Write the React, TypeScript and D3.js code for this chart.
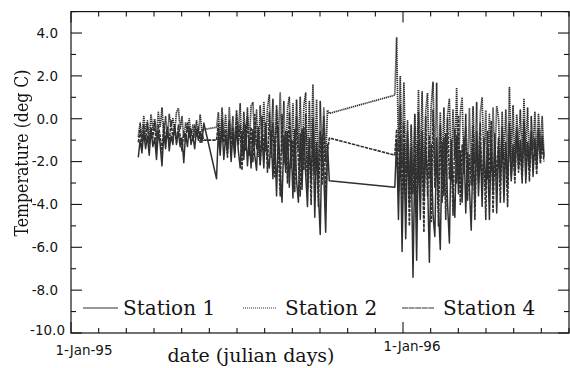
import React from 'react';
import * as d3 from 'd3';

// ---- data ----
const Y_TICK_VALUES = [4, 2, 0, -2, -4, -6, -8, -10];
const Y_TICK_LABELS = ['4.0', '2.0', '0.0', '-2.0', '-4.0', '-6.0', '-8.0', '-10.0'];
const X_LABEL_DAYS = [0, 365];
const X_TICK_LABELS = ['1-Jan-95', '1-Jan-96'];
const MONTH_COUNT = 18;
const LEGEND_NAMES = ['Station 1', 'Station 2', 'Station 4'];

// julian day (from 1-Jan-95) of the first sample in each recorded block, sampled every 2 days
const BLOCK_START_DAYS = [74, 160, 356];
const SAMPLE_STEP_DAYS = 2;

const station1Block1 = [-1.8, -1.0, -1.6, -0.6, -1.4, -0.8, -1.7, -0.5, -1.3, -0.9, -1.9, -0.6, -1.2, -2.2, -0.7, -1.4, -0.4, -1.5, -0.8, -1.2, -0.3, -1.1, -0.6, -1.3, -0.9, -2.05, -0.7, -1.3, -0.4, -1.2, -0.8, -1.4, -0.5, -1.0, -0.6, -1.1, -0.2];
const station1Block2 = [-2.8, -0.6, -1.7, -0.3, -1.9, -0.8, -1.6, -0.2, -2.0, -0.7, -1.8, -0.4, -1.5, -2.3, -0.6, -1.9, -0.3, -2.2, -0.9, -2.3, -0.5, -1.7, -2.4, -0.4, -2.1, -0.8, -2.3, -0.2, -1.9, -2.3, -0.6, -2.8, -0.9, -3.6, -0.4, -2.5, -3.9, -0.8, -2.5, -0.6, -3.2, -1.0, -3.7, -0.5, -2.9, -3.9, -0.7, -3.3, -0.4, -2.6, -4.1, -0.9, -3.0, -0.3, -4.6, -1.1, -3.5, -5.4, -0.8, -2.7, -5.3, -1.2, -2.9];
const station1Block3 = [-3.2, -1.0, -4.7, -0.8, -6.2, -1.2, -5.6, -0.9, -4.0, -1.5, -7.4, -1.8, -6.6, -1.0, -4.7, -0.6, -3.8, -1.4, -2.9, -6.7, -1.2, -4.5, -5.5, -0.9, -4.2, -6.1, -1.1, -3.6, -0.7, -4.0, -5.8, -1.0, -3.3, -4.6, -0.8, -3.5, -1.5, -3.9, -0.9, -4.4, -1.6, -3.2, -5.2, -1.3, -4.1, -0.6, -3.6, -1.2, -4.1, -0.9, -3.3, -1.4, -4.7, -1.0, -3.4, -0.7, -4.4, -1.3, -3.0, -0.8, -3.9, -1.1, -3.2, -0.5, -2.9, -1.2, -2.6, -0.4, -2.3, -1.0, -2.7, -0.3, -3.0, -1.1, -2.4, -0.6, -2.7, -0.9, -2.2, -0.5, -1.9, -0.8, -1.8];

const station2Block1 = [-0.85, -0.2, -0.9, 0.1, -0.6, -0.1, -1.0, 0.2, -0.5, 0.0, -0.8, 0.3, -0.4, 0.5, -0.7, 0.1, -0.9, 0.2, -0.3, 0.0, -0.6, 0.3, 0.5, -0.5, 0.1, -0.9, -0.2, -0.6, 0.0, -0.8, -0.3, -0.9, -0.1, -0.7, 0.2, -0.6, -0.5];
const station2Block2 = [-0.4, 0.3, -1.2, 0.5, -0.8, 0.2, -1.4, 0.55, -0.9, 0.1, -1.5, 0.4, -0.7, 0.7, -1.6, 0.3, -1.0, 0.5, -1.3, 0.6, 0.75, -1.2, 0.4, -1.8, 0.6, -0.9, 0.8, -1.5, 0.5, 1.1, -1.2, 0.9, -2.0, 0.6, -1.0, 1.2, -1.6, 0.8, -2.2, 0.5, 1.0, -1.8, 0.7, -2.4, 0.9, -1.5, 1.0, -2.0, 0.6, 1.2, -2.6, 0.8, -1.4, 1.6, -2.2, 0.9, -2.8, 0.8, -1.6, 0.5, -2.0, 0.4, 0.25];
const station2Block3 = [1.1, 3.8, -1.5, 2.0, -2.2, 1.7, -2.5, -0.1, -3.0, -0.3, -2.6, 0.2, -2.8, 1.35, -2.4, 1.25, -3.2, 0.4, 1.2, -2.8, 0.6, 1.7, -2.5, 1.65, -3.0, 0.3, -2.2, 0.5, -2.6, 0.2, 0.9, -2.9, 0.4, -1.8, 1.45, -2.6, 0.3, 1.0, -2.4, 0.2, -2.9, 0.5, -2.5, 0.55, -2.1, 0.75, -3.0, 0.3, 1.0, -2.2, 0.4, -2.8, 0.2, -2.4, 0.5, -2.0, 0.6, 0.05, -2.5, 0.3, -1.9, 0.4, -2.2, 1.45, -1.8, 0.6, -2.3, 0.2, -1.5, 0.4, -2.0, 0.9, -1.6, 0.5, -2.1, 0.1, -1.4, 0.3, -1.8, 0.2, -1.3, 0.1, -1.7];

const station4Block1 = [-1.1, -0.5, -1.3, -0.3, -1.0, -0.2, -1.2, -0.4, -0.9, -0.1, -1.4, -0.3, -0.8, -1.6, -0.2, -1.0, -0.5, -1.1, -0.1, -0.9, -0.4, -1.2, -0.3, -0.8, -1.5, -0.6, -1.1, -0.2, -0.9, -0.5, -1.0, -0.3, -0.8, -0.4, -1.1, -0.7, -1.0];
const station4Block2 = [-1.0, -0.2, -1.4, 0.0, -1.1, -0.5, -1.8, -0.1, -1.3, -0.4, -1.6, 0.2, -1.2, -0.3, -2.4, -0.2, -1.5, 0.1, -1.7, -0.4, -2.0, 0.2, -1.4, -0.6, -2.2, 0.1, -1.6, -0.5, -2.5, 0.3, -1.8, -0.2, -2.7, 0.4, -1.5, -3.6, 0.2, -2.1, -0.6, -3.0, 0.3, -2.3, -1.0, -3.4, 0.1, -2.0, -3.6, -0.5, -2.4, 0.2, -3.3, -1.1, -4.0, 0.0, -2.6, -1.4, -4.1, -0.6, -3.1, 0.1, -3.8, -1.5, -0.9];
const station4Block3 = [-1.7, -0.5, -3.4, 0.6, -4.3, -0.2, -3.8, -0.6, -5.0, -1.2, -3.5, -0.4, -4.6, 0.3, -3.0, -1.4, -5.3, 0.1, -3.6, -0.8, -4.8, 0.4, -3.2, -1.6, -5.0, -0.3, -3.9, -0.9, -4.7, 0.0, -2.8, -1.4, -4.5, -0.5, -3.0, 0.1, -4.0, -1.2, -2.6, -0.4, -3.8, -1.7, -3.1, -0.3, -4.7, -1.0, -2.7, -0.2, -3.4, -1.5, -4.7, -0.6, -3.0, -0.1, -4.4, -1.3, -2.8, -0.9, -3.9, -0.4, -2.5, -1.6, -4.1, -0.2, -2.7, -1.5, -3.0, -0.6, -2.5, -1.4, -3.0, -0.1, -2.3, -1.2, -2.9, -0.7, -2.2, -1.3, -2.6, -0.6, -2.1, -1.2, -2.0];

const STATION1 = [station1Block1, station1Block2, station1Block3];
const STATION2 = [station2Block1, station2Block2, station2Block3];
const STATION4 = [station4Block1, station4Block2, station4Block3];

// ---- layout / style ----
const W = 570;
const H = 368;
const LEFT = 71;
const RIGHT = 569;
const TOP = 11.6;
const BOTTOM = 333;
const INK = '#141414';
const DATA_INK = '#303030';
const SANS = "'DejaVu Sans', sans-serif";
const SERIF = "'DejaVu Serif', serif";

function toPoints(blocks: number[][]): [number, number][] {
  const pts: [number, number][] = [];
  blocks.forEach((vals, k) => {
    vals.forEach((v, i) => pts.push([BLOCK_START_DAYS[k] + i * SAMPLE_STEP_DAYS, v]));
  });
  return pts;
}

export default function App() {
  const x = d3.scaleLinear().domain([0, (365 / 12) * MONTH_COUNT]).range([LEFT, RIGHT]);
  const y = d3.scaleLinear().domain([-10, 5]).range([BOTTOM, TOP]);
  const line = d3
    .line<[number, number]>()
    .x((d) => x(d[0]))
    .y((d) => y(d[1]));

  const monthTicks = d3.range(0, MONTH_COUNT + 1).map((m) => (m * 365) / 12);
  const yAll = d3.range(-10, 6, 1);

  const series = [
    { data: STATION4, dash: '3.4,1', width: 1.6 },
    { data: STATION2, dash: '1.3,0.7', width: 1.7 },
    { data: STATION1, dash: undefined as string | undefined, width: 1.5 },
  ];

  const legend = [
    { name: LEGEND_NAMES[0], x1: 83, x2: 118, tx: 123, dash: undefined as string | undefined },
    { name: LEGEND_NAMES[1], x1: 243, x2: 276, tx: 285, dash: '1,1' },
    { name: LEGEND_NAMES[2], x1: 402, x2: 434, tx: 443, dash: '6,0.6' },
  ];

  return (
    <svg
      width={W}
      height={H}
      style={{ position: 'absolute', left: 0, top: 0, background: '#fff' }}
    >
      <defs>
        <filter id="gray" x="-10%" y="-10%" width="120%" height="120%">
          <feColorMatrix type="saturate" values="0" />
        </filter>
      </defs>
      <rect x={0} y={0} width={W} height={H} fill="#fff" />
      {/* data */}
      {series.map((s, i) => (
        <path
          key={i}
          d={line(toPoints(s.data)) || ''}
          fill="none"
          stroke={DATA_INK}
          strokeWidth={s.width}
          strokeDasharray={s.dash}
          strokeLinejoin="round"
        />
      ))}

      {/* frame */}
      <rect x={LEFT} y={TOP} width={RIGHT - LEFT} height={BOTTOM - TOP} fill="none" stroke={INK} strokeWidth={1.2} />

      {/* y ticks left and right */}
      {yAll.map((v) => {
        const major = v % 2 === 0;
        const len = major ? 11 : 5;
        return (
          <g key={'yt' + v}>
            <line x1={LEFT} x2={LEFT + len} y1={y(v)} y2={y(v)} stroke={INK} strokeWidth={1.1} />
            <line x1={RIGHT} x2={RIGHT - len} y1={y(v)} y2={y(v)} stroke={INK} strokeWidth={1.1} />
          </g>
        );
      })}
      {/* x ticks top and bottom */}
      {monthTicks.map((d, i) => {
        const major = i % 12 === 0;
        const len = major ? 11 : 5;
        return (
          <g key={'xt' + i}>
            <line x1={x(d)} x2={x(d)} y1={BOTTOM} y2={BOTTOM - len} stroke={INK} strokeWidth={1.1} />
            <line x1={x(d)} x2={x(d)} y1={TOP} y2={TOP + len} stroke={INK} strokeWidth={1.1} />
          </g>
        );
      })}

      {/* y tick labels */}
      {Y_TICK_VALUES.map((v, i) => {
        const last = v === -10;
        return (
          <text
            key={'yl' + v}
            x={last ? 65 : 58}
            y={y(v) + (last ? 1.5 : 4.8)}
            textAnchor="end"
            fontFamily={SANS}
            fontSize={13.5}
            fill={INK}
          >
            {Y_TICK_LABELS[i]}
          </text>
        );
      })}

      {/* x tick labels */}
      {X_LABEL_DAYS.map((d, i) => (
        <text
          key={'xl' + i}
          x={x(d) + (i === 0 ? 13 : 9)}
          y={i === 0 ? 355 : 351}
          textAnchor="middle"
          fontFamily={SANS}
          fontSize={13.5}
          fill={INK}
        >
          {X_TICK_LABELS[i]}
        </text>
      ))}

      {/* axis titles */}
      <text x={251} y={362} textAnchor="middle" fontFamily={SERIF} fontSize={19} fill={INK}>
        date (julian days)
      </text>
      <g filter="url(#gray)">
        <g transform="translate(28,153) rotate(-90) scale(0.83,1)">
          <text textAnchor="middle" fontFamily={SERIF} fontSize={19} fill={INK}>
            Temperature (deg C)
          </text>
        </g>
      </g>

      {/* legend */}
      {legend.map((l) => (
        <g key={l.name}>
          <line x1={l.x1} x2={l.x2} y1={308} y2={308} stroke={DATA_INK} strokeWidth={1} strokeDasharray={l.dash} />
          <text x={l.tx} y={315} fontFamily={SERIF} fontSize={20} fill={INK}>
            {l.name}
          </text>
        </g>
      ))}
    </svg>
  );
}
